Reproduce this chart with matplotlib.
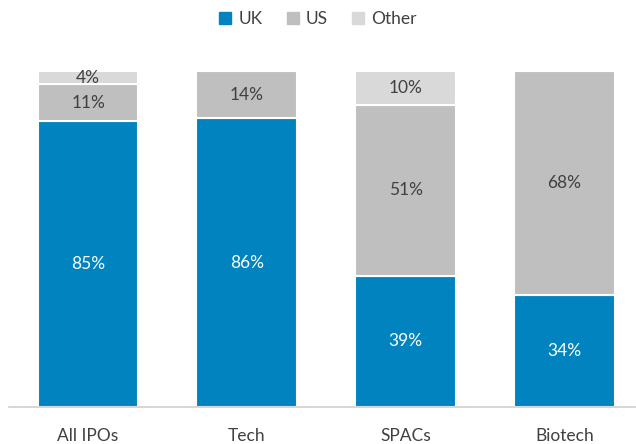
import numpy as np
import matplotlib.pyplot as plt
import matplotlib.patches as mpatches

plt.rcParams['font.family'] = ['Lato', 'DejaVu Sans']

categories = ['All IPOs', 'Tech', 'SPACs', 'Biotech']
uk = np.array([85, 86, 39, 34])
us = np.array([11, 14, 51, 68])
other = np.array([4, 0, 10, 0])

series = [('UK', uk, '#0083BE', 'white'),
          ('US', us, '#BFBFBF', '#404040'),
          ('Other', other, '#D9D9D9', '#404040')]

totals = uk + us + other


def main():
    fig = plt.figure(figsize=(6.36, 4.44), dpi=100)
    ax = fig.add_axes([8.7 / 636, 1 - 407 / 444, 635 / 636, 336 / 444])

    x = np.arange(len(categories))
    bottom = np.zeros(len(categories))
    for name, vals, color, tcolor in series:
        share = vals / totals
        ax.bar(x, share, 0.635, bottom=bottom, color=color, edgecolor='white',
               linewidth=1.5, label=name)
        for xi, s, b, v in zip(x, share, bottom, vals):
            if v > 0:
                ax.text(xi, b + s / 2, f'{v}%', ha='center', va='center',
                        color=tcolor, fontsize=12.5)
        bottom += share

    ax.set_xlim(-0.5, 3.5)
    ax.set_ylim(0, 1)
    ax.set_xticks(x)
    ax.set_xticklabels(categories, fontsize=12.5, color='#404040')
    ax.tick_params(axis='x', length=0, pad=15)
    ax.set_yticks([])
    for side in ['left', 'right', 'top']:
        ax.spines[side].set_visible(False)
    ax.spines['bottom'].set_color('#D0D0D0')
    ax.spines['bottom'].set_linewidth(1.2)

    handles = [mpatches.Patch(color=c, label=n) for n, _, c, _ in series]
    fig.legend(handles=handles, loc='center', bbox_to_anchor=(0.5, 1 - 19 / 444),
               ncol=3, frameon=False, fontsize=12.5, handlelength=0.7,
               handleheight=0.7, handletextpad=0.4, columnspacing=1.4,
               labelcolor='#404040')

    fig.savefig('out.png', dpi=100)


if __name__ == "__main__":
    main()
